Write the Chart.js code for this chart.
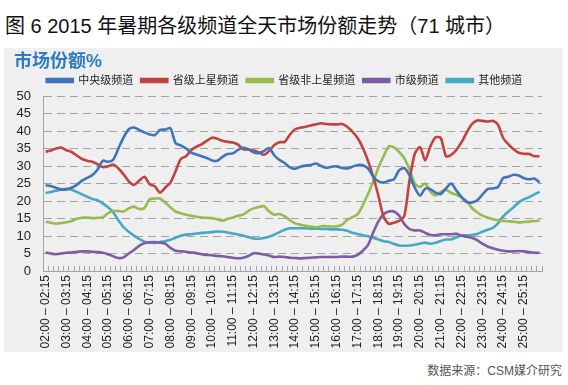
<!DOCTYPE html>
<html>
<head>
<meta charset="utf-8">
<script src="https://cdn.jsdelivr.net/npm/chart.js@4/dist/chart.umd.min.js"></script>
<style>
  html, body { margin: 0; padding: 0; background: #fff; }
  body { width: 568px; height: 385px; position: relative; overflow: hidden;
         font-family: "Liberation Sans", "Noto Sans CJK SC", sans-serif; }
  #title { position: absolute; left: 5px; top: 10px; font-size: 20px; color: #111; white-space: nowrap; }
  #panel { position: absolute; left: 4px; top: 48px; width: 559px; height: 304px; background: #efefef; }
  #source { position: absolute; right: 6px; top: 361px; font-size: 12px; color: #555; }
</style>
</head>
<body>
<div id="title">图 6 2015 年暑期各级频道全天市场份额走势（71 城市）</div>
<div id="panel"><canvas id="chart"></canvas></div>
<div id="source">数据来源：CSM媒介研究</div>
<script>
(() => {
  "use strict";

  // x axis: one category per quarter hour, 02:00 to 25:45
  const hours    = ["02","03","04","05","06","07","08","09","10","11","12","13",
                    "14","15","16","17","18","19","20","21","22","23","24","25"];
  const quarters = ["00","15","30","45"];
  const next     = { "00": "15", "15": "30", "30": "45" };

  const slots = [];
  hours.forEach((h, hi) => {
    quarters.forEach((q) => {
      const end = q === "45" ? `${hours[hi + 1] || "26"}:00` : `${h}:${next[q]}`;
      slots.push(`${h}:${q} – ${end}`);
    });
  });

  // market share %, one value per quarter hour
  const central = [
    24.5, 24.3, 23.8, 23.3, 23.3, 23.8, 24.6, 25.8, 26.6, 27.4, 29.0, 31.5,
    31.2, 31.8, 35.0, 38.2, 40.5, 41.0, 40.3, 39.6, 39.0, 38.8, 40.3, 40.4,
    40.8, 36.5, 35.9, 35.0, 33.8, 33.3, 32.8, 32.3, 31.6, 31.5, 32.6, 33.4,
    33.6, 34.6, 35.2, 34.8, 33.9, 33.7, 34.3, 35.1, 33.0, 31.7, 30.8, 29.6,
    29.2, 29.8, 30.1, 30.3, 30.7, 30.0, 29.5, 29.8, 29.9, 29.4, 29.3, 29.8,
    30.3, 30.2, 29.3, 27.0, 25.6, 25.3, 25.8, 26.2, 28.8, 29.4, 27.3, 23.8,
    21.5, 23.5, 23.4, 22.4, 22.0, 23.6, 25.0, 23.0, 21.1, 19.7, 19.6, 20.2,
    21.8, 23.4, 23.6, 24.0, 26.6, 26.9, 27.5, 27.3, 26.5, 26.2, 26.4, 25.3
  ];
  const provSat = [
    34.1, 34.4, 35.0, 35.3, 34.5, 34.0, 33.0, 32.0, 31.5, 31.2, 30.5, 29.7,
    29.9, 30.4, 29.3, 27.6, 25.6, 24.6, 25.8, 26.9, 24.8, 24.2, 22.4, 23.8,
    25.2, 28.5, 32.0, 32.8, 34.5, 35.5, 36.2, 37.2, 38.1, 37.8, 37.2, 36.9,
    36.7, 36.1, 34.8, 34.7, 34.4, 33.9, 33.2, 34.3, 36.0, 36.8, 36.9, 39.0,
    40.5, 40.9, 41.2, 41.6, 41.9, 42.2, 42.0, 41.9, 41.9, 42.0, 41.2, 39.8,
    38.0, 35.2, 31.5, 27.0, 21.5, 15.5, 13.5, 13.8, 14.3, 15.8, 26.0, 33.5,
    35.4, 31.6, 35.6, 38.2, 38.0, 32.8, 33.2, 34.6, 36.8, 39.6, 42.0, 43.0,
    42.9, 42.7, 42.9, 41.8, 38.0, 36.2, 34.8, 33.8, 33.5, 33.4, 32.8, 32.8
  ];
  const provLocal = [
    14.1, 13.8, 13.5, 13.7, 13.9, 14.3, 14.9, 15.2, 15.3, 15.1, 15.2, 15.3,
    16.5, 17.2, 17.1, 17.0, 17.9, 18.4, 17.7, 18.0, 20.5, 20.7, 20.7, 19.6,
    18.2, 17.0, 16.5, 16.1, 15.8, 15.5, 15.3, 15.2, 15.1, 14.8, 14.4, 14.9,
    15.3, 15.8, 16.1, 17.2, 17.9, 18.3, 18.5, 17.0, 16.1, 16.3, 15.6, 14.5,
    13.6, 13.2, 12.9, 12.7, 12.5, 12.8, 12.8, 12.7, 12.8, 13.2, 14.6, 15.4,
    16.2, 18.8, 22.0, 25.5, 29.5, 32.8, 35.6, 35.3, 34.0, 32.2, 29.0, 25.0,
    24.0, 25.0, 22.7, 21.6, 22.6, 23.2, 22.3, 21.8, 21.0, 20.0, 18.0, 16.8,
    15.8, 15.3, 14.8, 14.5, 14.3, 14.2, 14.1, 13.9, 14.0, 14.1, 14.3, 14.4
  ];
  const city = [
     5.3,  5.0,  4.8,  5.0,  5.2,  5.3,  5.5,  5.6,  5.6,  5.5,  5.4,  5.2,
     4.8,  4.2,  3.7,  3.9,  5.0,  6.0,  7.2,  7.9,  8.2,  8.3,  8.1,  7.8,
     6.6,  5.8,  5.6,  5.5,  5.3,  5.1,  4.8,  4.6,  4.5,  4.3,  4.2,  4.0,
     3.8,  3.6,  3.8,  4.3,  5.1,  5.0,  4.7,  4.4,  4.0,  4.1,  4.0,  3.8,
     3.7,  3.6,  3.7,  3.8,  3.9,  4.0,  4.0,  4.0,  4.0,  4.1,  4.1,  4.1,
     4.6,  5.8,  7.4, 11.0, 14.2, 16.2, 17.0, 17.0, 15.8, 13.4, 12.0, 11.6,
    11.6, 10.9, 10.3, 10.2, 10.5, 10.5, 10.5, 10.6, 10.1,  9.8,  9.5,  8.8,
     7.8,  7.0,  6.5,  6.1,  5.8,  5.6,  5.6,  5.7,  5.6,  5.4,  5.2,  5.2
  ];
  const other = [
    22.3, 22.6, 22.9, 23.3, 23.5, 23.2, 22.6, 21.9, 21.2, 20.6, 20.2, 19.3,
    18.2, 16.8, 14.5, 12.5, 11.2, 10.1,  9.2,  8.4,  8.1,  8.0,  8.3,  8.5,
     8.9,  9.5, 10.1, 10.4, 10.5, 10.7, 10.9, 11.0, 11.1, 11.3, 11.2, 11.0,
    10.7, 10.4, 10.1,  9.7,  9.3,  9.2,  9.4,  9.8, 10.4, 11.1, 11.8, 12.2,
    12.2, 12.2, 12.2, 12.1, 12.1, 12.0, 12.0, 11.9, 11.9, 11.8, 11.5, 10.9,
    10.6, 10.2,  9.9,  9.5,  9.0,  8.5,  8.3,  7.7,  7.3,  7.2,  7.3,  7.5,
     7.8,  8.1,  7.8,  8.1,  8.6,  9.0,  9.0,  9.6, 10.2, 10.2, 10.3, 10.6,
    11.2, 11.8, 12.3, 13.6, 15.6, 17.0, 18.2, 19.6, 20.5, 21.1, 21.9, 22.6
  ];

  const seriesNames  = ["中央级频道", "省级上星频道", "省级非上星频道", "市级频道", "其他频道"];
  const seriesValues = [central, provSat, provLocal, city, other];
  const seriesColors = ["#4173b9", "#c0433f", "#98bb4f", "#7d5da0", "#45a9c4"];

  const FONT = '"Liberation Sans", "Noto Sans CJK SC", sans-serif';
  const AXIS = "#a3a3a3";

  const ctx = document.getElementById("chart").getContext("2d");

  new Chart(ctx, {
    type: "line",
    data: {
      labels: slots,
      datasets: seriesNames.map((name, k) => ({
        label: name,
        data: seriesValues[k],
        borderColor: seriesColors[k],
        backgroundColor: seriesColors[k],
        borderWidth: 2.6,
        pointRadius: 0,
        tension: 0.25,
        fill: false
      }))
    },
    options: {
      responsive: true,
      maintainAspectRatio: false,
      devicePixelRatio: 1,
      animation: false,
      layout: { padding: { left: 10, right: 8, top: 0, bottom: 0 } },
      plugins: {
        title: {
          display: true,
          text: "市场份额%",
          align: "start",
          color: "#2e7bc4",
          font: { family: FONT, size: 18, weight: "bold" },
          padding: { top: 3, bottom: -5.6 }
        },
        legend: {
          position: "top",
          align: "center",
          labels: {
            boxWidth: 26,
            boxHeight: 3,
            padding: 8,
            color: "#222",
            font: { family: FONT, size: 11 }
          }
        },
        tooltip: { enabled: false }
      },
      scales: {
        x: {
          offset: true,
          afterFit: (s) => { s.height = 81; },
          grid: {
            offset: true,
            drawOnChartArea: false,
            drawTicks: true,
            tickLength: -5,
            tickColor: AXIS
          },
          border: { display: true, color: AXIS, width: 1 },
          ticks: {
            autoSkip: false,
            minRotation: 90,
            maxRotation: 90,
            padding: 9,
            color: "#222",
            font: { family: FONT, size: 12 },
            callback: (v, i) => (i % 4 === 0 ? slots[i] : "")
          }
        },
        y: {
          min: 0,
          max: 50,
          afterFit: (s) => { s.width = 29; },
          grid: { color: AXIS, drawTicks: false, lineWidth: 1 },
          border: { display: true, color: AXIS, width: 1, dash: [8, 5] },
          ticks: {
            stepSize: 5,
            autoSkip: false,
            padding: 12,
            color: "#222",
            font: { family: FONT, size: 13 }
          }
        }
      }
    }
  });
})();
</script>
</body>
</html>
